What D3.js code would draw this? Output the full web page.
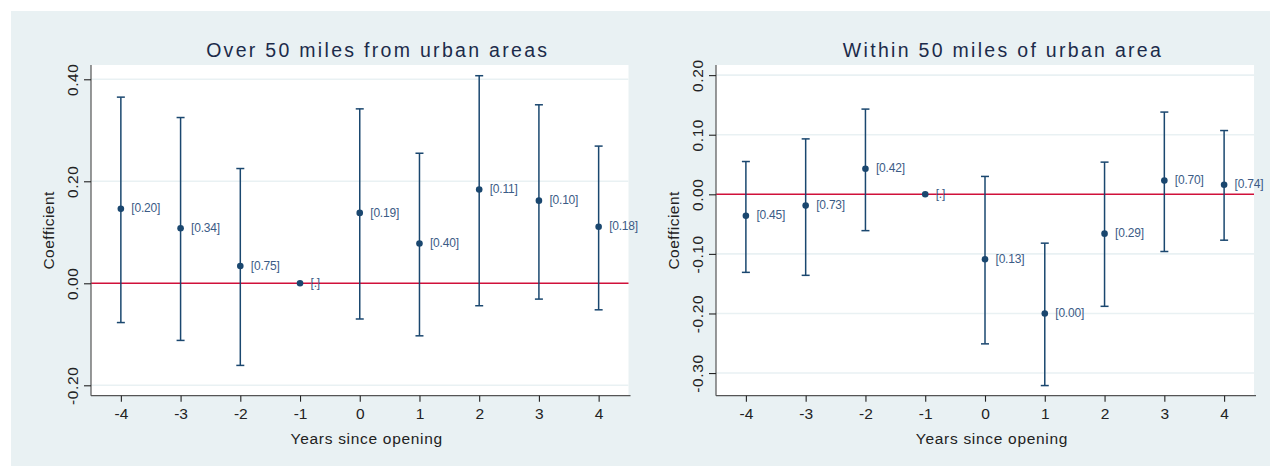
<!DOCTYPE html>
<html>
<head>
<meta charset="utf-8">
<script src="https://cdn.jsdelivr.net/npm/d3@7"></script>
<style>
  body { margin: 0; background: #fff; }
  svg { display: block; font-family: Arial, "Liberation Sans", sans-serif; }
</style>
</head>
<body>
<div id="chart"></div>
<script>
const years = [-4, -3, -2, -1, 0, 1, 2, 3, 4];

// panel 1: over 50 miles
const farCoef  = [0.146, 0.108, 0.034, 0.000, 0.138, 0.078, 0.184, 0.162, 0.111];
const farLow   = [-0.077, -0.112, -0.161, null, -0.070, -0.103, -0.044, -0.031, -0.052];
const farHigh  = [0.365, 0.325, 0.225, null, 0.342, 0.255, 0.407, 0.350, 0.269];
const farPval  = ["[0.20]", "[0.34]", "[0.75]", "[.]", "[0.19]", "[0.40]", "[0.11]", "[0.10]", "[0.18]"];
const farTicks = [-0.2, 0, 0.2, 0.4];

// panel 2: within 50 miles
const nearCoef  = [-0.036, -0.019, 0.043, 0.000, -0.109, -0.200, -0.066, 0.023, 0.016];
const nearLow   = [-0.131, -0.136, -0.061, null, -0.251, -0.321, -0.188, -0.096, -0.077];
const nearHigh  = [0.055, 0.093, 0.143, null, 0.030, -0.082, 0.054, 0.138, 0.107];
const nearPval  = ["[0.45]", "[0.73]", "[0.42]", "[.]", "[0.13]", "[0.00]", "[0.29]", "[0.70]", "[0.74]"];
const nearTicks = [-0.3, -0.2, -0.1, 0, 0.1, 0.2];

const W = 1270, H = 466;
const bg = "#e9f1f3", navy = "#1a476f", labCol = "#3b5b86", ink = "#222";

// stata uses a plain hyphen for negatives
const fmtY = d => d.toFixed(2);
const fmtX = d => String(d);

const svg = d3.select("#chart").append("svg")
  .attr("width", W).attr("height", H);

svg.append("rect")
  .attr("x", 11).attr("y", 11)
  .attr("width", W - 11).attr("height", H - 11)
  .attr("fill", bg);

const panels = [
  { title: "Over 50 miles from urban areas", coef: farCoef, low: farLow, high: farHigh,
    pval: farPval, ticks: farTicks, ydom: [-0.2204, 0.428], left: 91, right: 628.5 },
  { title: "Within 50 miles of urban area", coef: nearCoef, low: nearLow, high: nearHigh,
    pval: nearPval, ticks: nearTicks, ydom: [-0.338, 0.217], left: 716, right: 1254 }
];

const plotTop = 65, plotBottom = 395.7;

panels.forEach(p => {
  const x = d3.scaleLinear().domain([-4.5, 4.5]).range([p.left, p.right]);
  const y = d3.scaleLinear().domain(p.ydom).range([plotBottom, plotTop]);
  const g = svg.append("g");

  g.append("rect")
    .attr("x", p.left).attr("y", plotTop)
    .attr("width", p.right - p.left).attr("height", plotBottom - plotTop)
    .attr("fill", "#fff");

  // gridlines
  g.selectAll(".grid")
    .data(p.ticks.filter(t => t !== 0))
    .enter().append("line")
    .attr("x1", p.left).attr("x2", p.right)
    .attr("y1", d => y(d)).attr("y2", d => y(d))
    .attr("stroke", bg).attr("stroke-width", 1.6);

  // zero line
  g.append("line")
    .attr("x1", p.left).attr("x2", p.right)
    .attr("y1", y(0)).attr("y2", y(0))
    .attr("stroke", "#d0103a").attr("stroke-width", 1.6);

  // y axis
  const yAxis = g.append("g")
    .attr("transform", `translate(${p.left},0)`)
    .call(d3.axisLeft(y).tickValues(p.ticks).tickFormat(fmtY).tickSize(7).tickSizeOuter(0));
  yAxis.select(".domain").attr("stroke", "#555").attr("stroke-width", 1.2)
    .attr("d", `M0,${plotTop}V${plotBottom}`);
  yAxis.selectAll(".tick line").attr("stroke", ink).attr("stroke-width", 1.1);
  yAxis.selectAll(".tick text")
    .attr("x", null).attr("dy", null)
    .attr("transform", "translate(-13,0) rotate(-90)")
    .attr("text-anchor", "middle")
    .attr("fill", ink)
    .style("font-size", "15.5px")
    .style("letter-spacing", "0.6px");

  // x axis
  const xAxis = g.append("g")
    .attr("transform", `translate(0,${plotBottom})`)
    .call(d3.axisBottom(x).tickValues(years).tickFormat(fmtX).tickSize(6).tickSizeOuter(0));
  xAxis.select(".domain").attr("stroke", "#555").attr("stroke-width", 1.2)
    .attr("d", `M${p.left},0H${p.right + 2}`);
  xAxis.selectAll(".tick line").attr("stroke", ink).attr("stroke-width", 1.1);
  xAxis.selectAll(".tick text")
    .attr("y", 23.5).attr("dy", null)
    .attr("fill", ink)
    .style("font-size", "15.5px");

  // error bars
  const bars = years.map((yr, i) => ({ yr, lo: p.low[i], hi: p.high[i] })).filter(d => d.lo !== null);
  g.selectAll(".ci")
    .data(bars)
    .enter().append("line")
    .attr("x1", d => x(d.yr)).attr("x2", d => x(d.yr))
    .attr("y1", d => y(d.lo)).attr("y2", d => y(d.hi))
    .attr("stroke", navy).attr("stroke-width", 1.5);
  ["lo", "hi"].forEach(k => {
    g.selectAll(".cap-" + k)
      .data(bars)
      .enter().append("line")
      .attr("x1", d => x(d.yr) - 4).attr("x2", d => x(d.yr) + 4)
      .attr("y1", d => y(d[k])).attr("y2", d => y(d[k]))
      .attr("stroke", navy).attr("stroke-width", 1.5);
  });

  // points + p-value labels
  const pts = years.map((yr, i) => ({ yr, c: p.coef[i], lab: p.pval[i] }));
  g.selectAll(".pt")
    .data(pts)
    .enter().append("circle")
    .attr("cx", d => x(d.yr)).attr("cy", d => y(d.c))
    .attr("r", 3.3).attr("fill", navy);
  g.selectAll(".lab")
    .data(pts)
    .enter().append("text")
    .attr("x", d => x(d.yr) + 10.5).attr("y", d => y(d.c))
    .attr("dy", "0.3em")
    .attr("fill", labCol)
    .style("font-size", "12px")
    .style("letter-spacing", "-0.2px")
    .text(d => d.lab);

  // title + axis titles
  g.append("text")
    .attr("x", (p.left + p.right) / 2 + 18).attr("y", 57)
    .attr("text-anchor", "middle")
    .attr("fill", "#1c2b4a")
    .style("font-size", "19.5px")
    .style("letter-spacing", "2.3px")
    .text(p.title);

  g.append("text")
    .attr("x", (p.left + p.right) / 2 + 7).attr("y", 443.5)
    .attr("text-anchor", "middle")
    .attr("fill", ink)
    .style("font-size", "15.5px")
    .style("letter-spacing", "0.7px")
    .text("Years since opening");

  g.append("text")
    .attr("transform", `translate(${p.left - 37},${(plotTop + plotBottom) / 2}) rotate(-90)`)
    .attr("text-anchor", "middle")
    .attr("fill", ink)
    .style("font-size", "15.5px")
    .style("letter-spacing", "0.5px")
    .text("Coefficient");
});
</script>
</body>
</html>
